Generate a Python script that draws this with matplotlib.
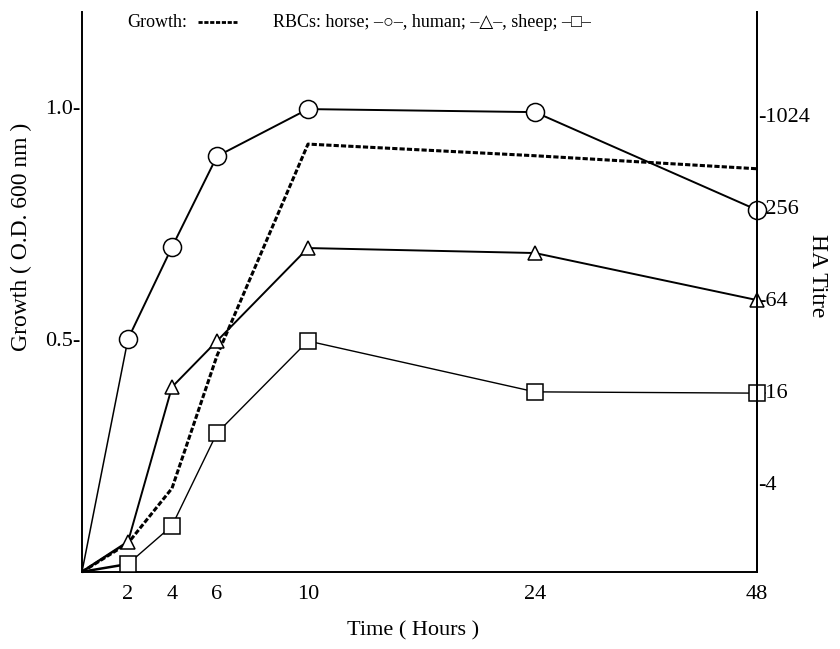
import numpy as np
import matplotlib
matplotlib.use("Agg")
import matplotlib.pyplot as plt
from matplotlib.lines import Line2D

plt.rcParams['font.family'] = ['Liberation Serif', 'DejaVu Sans']

# sampling times (hours)
hours = [0, 2, 4, 6, 10, 24, 48]

# growth, O.D. 600 nm (left axis)
growth = [0.0, 0.062, 0.18, 0.465, 0.92, 0.895, 0.867]

# HA titre (right axis, log2)
titre_horse = [1.05, 35, 140, 550, 1120, 1070, 245]
titre_human = [1.05, 1.65, 17, 34, 138, 128, 63]
titre_sheep = [1.05, 1.18, 2.1, 8.5, 34, 15.8, 15.5]

growth_ticks = [0.5, 1.0]
titre_ticks = [4, 16, 64, 256, 1024]

# the time axis is stretched unevenly in the original figure
knot_h = [-10, 0, 2, 4, 6, 10, 24, 48, 100]
knot_p = [-230, 0, 46, 90, 135, 226, 453, 675, 1150]


def fwd(x):
    return np.interp(x, knot_h, knot_p)


def inv(x):
    return np.interp(x, knot_p, knot_h)


fig = plt.figure(figsize=(8.4, 6.49), dpi=100)
ax = fig.add_axes([0.0976, 0.1186, 0.8036, 0.8629])
ax2 = ax.twinx()

ax.set_xscale('function', functions=(fwd, inv))
ax.set_xlim(0, 48)
ax.set_ylim(0, 1.204)
ax2.set_yscale('log', base=2)
ax2.set_ylim(2 ** 0.065, 2 ** 12.24)

# growth curve
ax.plot(hours, growth, color='black', lw=2.2, dashes=(1.7, 0.7), zorder=2.2,
        clip_on=False)

# HA titres (kept under the spines so the right axis shows through the 48 h marks)
mk = dict(mfc='white', mec='black', mew=1.1, zorder=2.2, clip_on=False)
ax2.plot(hours[1:], titre_horse[1:], color='black', lw=1.4, marker='o', ms=13, **mk)
ax2.plot(hours[:2], titre_horse[:2], color='black', lw=1.1, zorder=2)
ax2.plot(hours[1:], titre_human[1:], color='black', lw=1.4, marker='^', ms=10.5, **mk)
ax2.plot(hours[:2], titre_human[:2], color='black', lw=1.8, zorder=2)
ax2.plot(hours[1:], titre_sheep[1:], color='black', lw=1.0, marker='s', ms=11.5, **mk)
ax2.plot(hours[:2], titre_sheep[:2], color='black', lw=1.8, zorder=2)

for a in (ax, ax2):
    a.spines['top'].set_visible(False)
    for s in a.spines.values():
        s.set_linewidth(1.4)
ax2.spines['left'].set_visible(False)
ax2.spines['bottom'].set_visible(False)

ax.set_xticks(hours[1:])
ax.set_xticklabels([str(h) for h in hours[1:]])
ax.tick_params(axis='x', length=0, pad=9, labelsize=16)
ax.set_yticks(growth_ticks)
ax.set_yticklabels([f"{v:.1f}-" for v in growth_ticks])
ax.tick_params(axis='y', length=0, pad=1, labelsize=16)
ax2.set_yticks(titre_ticks)
ax2.set_yticklabels([f"-{v}" for v in titre_ticks])
ax2.minorticks_off()
ax2.tick_params(axis='y', length=0, pad=1, labelsize=16)

ax.set_xlabel("Time ( Hours )", fontsize=16)
ax.xaxis.set_label_coords(0.49, -0.088)
ax.set_ylabel("Growth ( O.D. 600 nm )", fontsize=17)
ax.yaxis.set_label_coords(-0.074, 0.598)
ax2.set_ylabel("HA Titre", fontsize=17, rotation=270, va='center')
ax2.yaxis.set_label_coords(1.09, 0.529)

# key at the top
fig.text(0.152, 0.966, "Growth:", fontsize=13, va='center')
fig.add_artist(Line2D([0.236, 0.282], [0.966, 0.966], color='black', lw=2.0,
                      dashes=(1.5, 0.6), transform=fig.transFigure))
fig.text(0.325, 0.966, "RBCs: horse; \u2013\u25cb\u2013, human; \u2013\u25b3\u2013, sheep; \u2013\u25a1\u2013",
         fontsize=13, va='center')

fig.savefig("out.png", dpi=100)
